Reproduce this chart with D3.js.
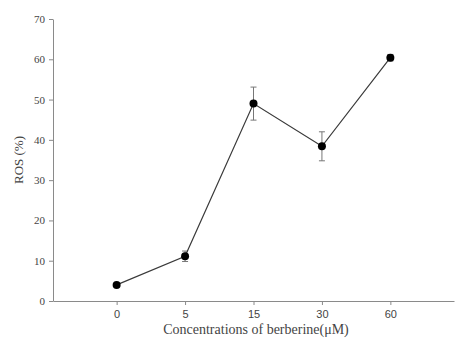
<!DOCTYPE html>
<html>
<head>
<meta charset="utf-8">
<script src="https://cdn.jsdelivr.net/npm/d3@7"></script>
<style>
  body { margin: 0; background: #fff; }
  svg { display: block; }
</style>
</head>
<body>
<div id="chart"></div>
<script>
// concentrations of berberine (uM) and ROS (%)
const concentrations = ["0", "5", "15", "30", "60"]
const rosMean = [4.0, 11.1, 49.0, 38.4, 60.4]
const rosErr = [0.3, 1.3, 4.1, 3.6, 0.8]
const yTicks = [0, 10, 20, 30, 40, 50, 60, 70]

const W = 455, H = 338
const margin = {top: 19, right: 1, bottom: 36, left: 53}

const svg = d3.select("#chart").append("svg")
	.attr("width", W)
	.attr("height", H)

const data = concentrations.map((c, i) => ({c: c, v: rosMean[i], e: rosErr[i]}))

const x = d3.scalePoint()
	.domain(concentrations)
	.range([margin.left, W - margin.right])
	.padding(0.93)

const y = d3.scaleLinear()
	.domain([0, 70])
	.range([H - margin.bottom - 1, margin.top])

const axisColor = "#8a8a8a"
const textColor = "#444"

// y axis
const yAxis = svg.append("g")
	.attr("transform", `translate(${margin.left},0)`)
	.call(d3.axisLeft(y).tickValues(yTicks).tickSize(4).tickSizeOuter(0).tickPadding(4))
yAxis.select(".domain").attr("stroke", axisColor)
yAxis.selectAll(".tick line").attr("stroke", axisColor)
yAxis.selectAll(".tick text")
	.attr("fill", textColor)
	.style("font-family", "'Liberation Serif', serif")
	.style("font-size", "11px")

// x axis
const xAxis = svg.append("g")
	.attr("transform", `translate(0,${y(0)})`)
	.call(d3.axisBottom(x).tickSize(4).tickSizeOuter(0).tickPadding(5))
xAxis.select(".domain").attr("stroke", axisColor)
xAxis.selectAll(".tick line").attr("stroke", axisColor)
xAxis.selectAll(".tick text")
	.attr("fill", textColor)
	.style("font-family", "'Liberation Sans', Arial, sans-serif")
	.style("font-size", "11px")

// axis titles
svg.append("text")
	.attr("x", (margin.left + W) / 2 + 2)
	.attr("y", 334)
	.attr("text-anchor", "middle")
	.attr("fill", textColor)
	.style("font-family", "'Liberation Serif', serif")
	.style("font-size", "14px")
	.text("Concentrations of berberine(\u03bcM)")

svg.append("text")
	.attr("transform", `translate(23,${y(35)}) rotate(-90)`)
	.attr("text-anchor", "middle")
	.attr("fill", textColor)
	.style("font-family", "'Liberation Serif', serif")
	.style("font-size", "13px")
	.text("ROS (%)")

// error bars
const err = svg.append("g").attr("stroke", "#777").attr("stroke-width", 1)
err.selectAll(".ev").data(data).enter().append("line")
	.attr("x1", d => x(d.c)).attr("x2", d => x(d.c))
	.attr("y1", d => y(d.v + d.e)).attr("y2", d => y(d.v - d.e))
err.selectAll(".et").data(data).enter().append("line")
	.attr("x1", d => x(d.c) - 3).attr("x2", d => x(d.c) + 3)
	.attr("y1", d => y(d.v + d.e)).attr("y2", d => y(d.v + d.e))
err.selectAll(".eb").data(data).enter().append("line")
	.attr("x1", d => x(d.c) - 3).attr("x2", d => x(d.c) + 3)
	.attr("y1", d => y(d.v - d.e)).attr("y2", d => y(d.v - d.e))

// line
const line = d3.line().x(d => x(d.c)).y(d => y(d.v))
svg.append("path")
	.datum(data)
	.attr("d", line)
	.attr("fill", "none")
	.attr("stroke", "#3a3a3a")
	.attr("stroke-width", 1.2)

// points
svg.selectAll(".dot").data(data).enter().append("circle")
	.attr("class", "dot")
	.attr("cx", d => x(d.c))
	.attr("cy", d => y(d.v))
	.attr("r", 4)
	.attr("fill", "#000")
</script>
</body>
</html>
